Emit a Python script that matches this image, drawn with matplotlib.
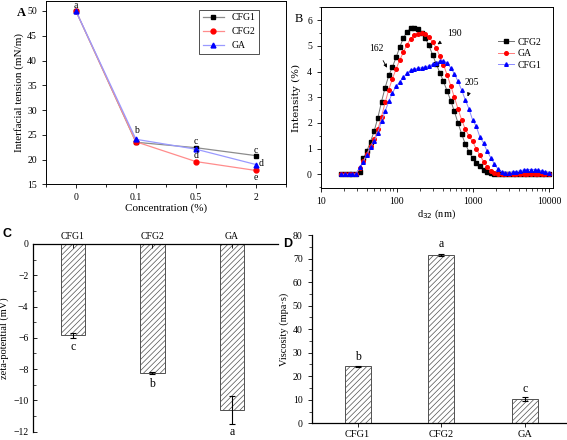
import numpy as np
import matplotlib
matplotlib.use("Agg")
from matplotlib import pyplot as plt
from matplotlib.ticker import MultipleLocator, LogLocator, NullFormatter

plt.rcParams['font.family'] = ['Liberation Serif', 'DejaVu Serif']
plt.rcParams['hatch.linewidth'] = 0.5

# ---- panel A: interfacial tension
conc_labels = ['0', '0.1', '0.5', '2']
tension_cfg1 = [50.0, 23.5, 22.4, 20.8]
tension_cfg2 = [50.0, 23.6, 19.6, 17.8]
tension_ga = [50.0, 24.1, 22.1, 19.0]
# letras de significancia (x indice, y, texto)
letters_a = [(0, 51.1, 'a'), (1.01, 25.8, 'b'), (2, 23.6, 'c'), (2, 20.9, 'd'),
             (3, 21.9, 'c'), (3.08, 19.3, 'd'), (3, 16.4, 'e')]

# ---- panel B: size distribution
size_nm = [18.6, 20.8, 23.2, 25.9, 28.9, 32.3, 36.1, 40.2, 44.9, 50.2,
           56.0, 62.6, 69.9, 78.0, 87.1, 97.3, 108.7, 121.3, 135.5, 151.3,
           169.0, 188.7, 210.7, 235.3, 262.8, 293.4, 327.7, 365.9, 408.6, 456.3,
           509.5, 569.0, 635.4, 709.6, 792.3, 884.8, 988.1, 1103, 1232, 1376,
           1536, 1716, 1916, 2140, 2389, 2668, 2980, 3327, 3715, 4149,
           4633, 5174, 5777, 6451, 7204, 8045, 8984, 10000]
int_cfg2 = [0, 0, 0, 0, 0.02, 0.1, 0.62, 0.92, 1.27, 1.7,
            2.2, 2.83, 3.38, 3.85, 4.18, 4.55, 4.95, 5.3, 5.55, 5.68,
            5.7, 5.64, 5.5, 5.3, 5.02, 4.66, 4.3, 3.96, 3.62, 3.25,
            2.87, 2.45, 2.0, 1.57, 1.18, 0.89, 0.63, 0.46, 0.31, 0.19,
            0.11, 0.06, 0.03, 0.01, 0, 0, 0, 0, 0, 0,
            0, 0, 0, 0, 0, 0, 0, 0]
int_ga = [0, 0, 0, 0, 0.02, 0.25, 0.52, 0.8, 1.1, 1.38,
          1.75, 2.25, 2.8, 3.3, 3.72, 4.1, 4.45, 4.75, 5.05, 5.28,
          5.42, 5.47, 5.5, 5.48, 5.35, 5.15, 4.93, 4.6, 4.27, 3.88,
          3.45, 3.0, 2.55, 2.12, 1.76, 1.5, 1.28, 1.0, 0.75, 0.5,
          0.3, 0.15, 0.05, 0.01, 0, 0, 0, 0, 0, 0,
          0, 0, 0, 0, 0, 0, 0, 0]
int_cfg1 = [0, 0, 0, 0, 0.02, 0.27, 0.5, 0.76, 1.05, 1.3,
            1.62, 2.07, 2.46, 2.84, 3.17, 3.42, 3.6, 3.77, 3.93, 4.05,
            4.09, 4.13, 4.15, 4.18, 4.22, 4.28, 4.33, 4.4, 4.42, 4.34,
            4.14, 3.92, 3.62, 3.28, 2.9, 2.55, 2.12, 1.87, 1.46, 1.22,
            0.9, 0.65, 0.4, 0.2, 0.09, 0.06, 0.06, 0.08, 0.11, 0.14,
            0.17, 0.19, 0.19, 0.19, 0.17, 0.14, 0.1, 0.06]
# (texto, posicion texto, punta flecha)
peak_notes = [('162', (53.6, 4.9), (74.0, 4.15)),
              ('190', (569, 5.48), (341, 5.06)),
              ('205', (975, 3.57), (853, 3.03))]

# ---- panel C / D
samples = ['CFG1', 'CFG2', 'GA']
zeta = [-5.85, -8.25, -10.6]
zeta_err = [0.15, 0.05, 0.88]
zeta_letters = ['c', 'b', 'a']
zeta_letter_y = [-6.6, -8.95, -12.0]
visc = [24.2, 71.5, 10.3]
visc_err = [0.3, 0.6, 0.9]
visc_letters = ['b', 'a', 'c']
visc_letter_y = [28.3, 76.2, 14.4]

fig = plt.figure(figsize=(5.67, 4.4), dpi=100)

# ================= A
axA = fig.add_axes([0.081, 0.581, 0.4233, 0.4166])
xi = np.arange(len(conc_labels))
axA.plot(xi, tension_cfg1, color='#8c8c8c', lw=0.9, marker='s', ms=3.5,
         mfc='black', mec='black', label='CFG1')
axA.plot(xi, tension_cfg2, color='#ff8c8c', lw=0.9, marker='o', ms=3.5,
         mfc='red', mec='red', label='CFG2')
axA.plot(xi, tension_ga, color='#9a9aff', lw=0.9, marker='^', ms=3.5,
         mfc='blue', mec='blue', label='GA')
for x, y, t in letters_a:
    axA.text(x, y, t, ha='center', va='center', fontsize=7)
axA.set_xlim(-0.5, 3.5)
axA.set_ylim(15, 52)
axA.set_xticks(xi)
axA.set_xticklabels(conc_labels)
axA.set_xticks([-0.5, 0.5, 1.5, 2.5, 3.5], minor=True)
axA.yaxis.set_major_locator(MultipleLocator(5))
axA.tick_params(labelsize=7, length=3, width=0.6)
axA.tick_params(which='minor', length=2, width=0.6)
axA.set_xlabel('Concentration (%)', fontsize=8, labelpad=1)
axA.set_ylabel('Interfacial tension (mN/m)', fontsize=8, labelpad=2)
leg = axA.legend(loc='upper right', fontsize=7, frameon=True, fancybox=False,
                 edgecolor='black', handlelength=2.2, borderpad=0.4,
                 labelspacing=0.5, bbox_to_anchor=(0.91, 0.98))
leg.get_frame().set_linewidth(0.6)
for s in axA.spines.values():
    s.set_linewidth(0.7)
fig.text(0.03, 0.985, 'A', fontsize=9, fontweight='bold', va='top')

# ================= B
axB = fig.add_axes([0.5661, 0.5727, 0.4087, 0.4107])
axB.plot(size_nm, int_cfg2, color='#707070', lw=0.7, marker='s', ms=2.6,
         mfc='black', mec='black', label='CFG2')
axB.plot(size_nm, int_ga, color='#ff7a7a', lw=0.7, marker='o', ms=2.6,
         mfc='red', mec='red', label='GA')
axB.plot(size_nm, int_cfg1, color='#8a8aff', lw=0.7, marker='^', ms=2.6,
         mfc='blue', mec='blue', label='CFG1')
for t, pos, tip in peak_notes:
    axB.annotate(t, xy=tip, xytext=pos, fontsize=7, ha='center', va='center',
                 arrowprops=dict(arrowstyle='-|>', lw=0.6, color='black',
                                 mutation_scale=5, shrinkA=4, shrinkB=0))
axB.set_xscale('log')
axB.set_xlim(10, 11200)
axB.set_ylim(-0.53, 6.5)
axB.set_xticks([10, 100, 1000, 10000])
axB.set_xticklabels(['10', '100', '1000', '10000'])
axB.xaxis.set_minor_locator(LogLocator(base=10, subs=np.arange(2, 10)))
axB.xaxis.set_minor_formatter(NullFormatter())
axB.yaxis.set_major_locator(MultipleLocator(1))
axB.yaxis.set_minor_locator(MultipleLocator(0.5))
axB.tick_params(labelsize=7, length=3, width=0.6)
axB.tick_params(which='minor', length=1.8, width=0.5)
axB.set_xlabel('d$_{32}$ (nm)', fontsize=7.5, labelpad=1)
axB.set_ylabel('Intensity (%)', fontsize=7.5, family='DejaVu Serif', labelpad=4)
axB.legend(loc='upper right', fontsize=7, frameon=False, handlelength=1.6,
           labelspacing=0.25, handletextpad=0.4, bbox_to_anchor=(0.99, 0.88))
for s in axB.spines.values():
    s.set_linewidth(0.7)
fig.text(0.519, 0.957, 'B', fontsize=9, va='center')

# ================= C
axC = fig.add_axes([0.0587, 0.0189, 0.4316, 0.4266])
xc = np.arange(len(samples))
axC.bar(xc, zeta, width=0.31, color='white', edgecolor='#505050', lw=0.7,
        hatch='//////')
axC.errorbar(xc, zeta, yerr=zeta_err, fmt='none', ecolor='black', elinewidth=0.8,
             capsize=2, capthick=0.8)
for x, y, t in zip(xc, zeta_letter_y, zeta_letters):
    axC.text(x, y, t, ha='center', va='center', fontsize=8.5)
axC.set_xlim(-0.5, 2.58)
axC.set_ylim(-12, 0)
axC.spines['bottom'].set_visible(False)
axC.spines['right'].set_visible(False)
axC.xaxis.tick_top()
axC.set_xticks(xc)
axC.set_xticklabels(samples)
axC.yaxis.set_major_locator(MultipleLocator(2))
axC.yaxis.set_minor_locator(MultipleLocator(1))
axC.tick_params(direction='in', labelsize=7, length=3, width=0.6)
axC.tick_params(which='minor', direction='in', length=2, width=0.5)
axC.tick_params(axis='x', pad=2)
axC.set_ylabel('zeta-potential (mV)', fontsize=7.5, labelpad=3)
for s in axC.spines.values():
    s.set_linewidth(0.9)
fig.text(0.005, 0.468, 'C', fontsize=9, fontweight='bold', family='Liberation Sans',
         va='center')

# ================= D
axD = fig.add_axes([0.5497, 0.038, 0.4498, 0.4279])
xd = np.arange(len(samples))
axD.bar(xd, visc, width=0.31, color='white', edgecolor='#505050', lw=0.7,
        hatch='//////')
axD.errorbar(xd, visc, yerr=visc_err, fmt='none', ecolor='black', elinewidth=0.8,
             capsize=2, capthick=0.8)
for x, y, t in zip(xd, visc_letter_y, visc_letters):
    axD.text(x, y, t, ha='center', va='center', fontsize=8.5)
axD.set_xlim(-0.55, 2.5)
axD.set_ylim(0, 80)
axD.spines['top'].set_visible(False)
axD.spines['right'].set_visible(False)
axD.set_xticks(xd)
axD.set_xticklabels(samples)
axD.yaxis.set_major_locator(MultipleLocator(10))
axD.yaxis.set_minor_locator(MultipleLocator(5))
axD.tick_params(labelsize=7, length=3, width=0.6)
axD.tick_params(which='minor', length=2, width=0.5)
axD.tick_params(axis='x', labelsize=7.5, pad=2)
axD.set_ylabel('Viscosity (mpa\u00b7s)', fontsize=7.5, labelpad=3)
for s in axD.spines.values():
    s.set_linewidth(0.9)
fig.text(0.499, 0.445, 'D', fontsize=9, fontweight='bold', family='Liberation Sans',
         va='center')

fig.savefig('out.png', dpi=100)
